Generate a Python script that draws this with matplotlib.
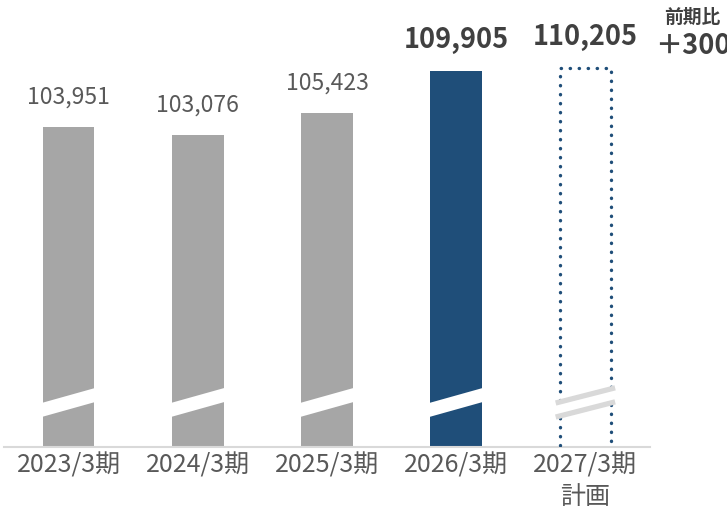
import matplotlib.pyplot as plt
from matplotlib.patches import Polygon
import numpy as np

plt.rcParams['font.family'] = ['Noto Sans CJK JP', 'DejaVu Sans']

# 売上高の推移（単位：百万円）
periods = ["2023/3期", "2024/3期", "2025/3期", "2026/3期", "2027/3期\n計画"]
sales = [103951, 103076, 105423, 109905, 110205]
bar_colors = ["#a6a6a6", "#a6a6a6", "#a6a6a6", "#1f4e79", "none"]
bold_label = [False, False, False, True, True]
diff_text = "＋300"

navy = "#1f4e79"
y_min, y_max = 69800, 117500

fig = plt.figure(figsize=(7.27, 5.12), dpi=100)
ax = fig.add_axes([4 / 727, 65 / 512, 646 / 727, 447 / 512])

x = np.arange(len(periods))
w = 0.40
ax.bar(x[:4], sales[:4], width=w, color=bar_colors[:4], zorder=2)

# 計画値は点線の枠で表示
plan = ax.bar(x[4], sales[4], width=w, facecolor="none", edgecolor=navy,
              linewidth=2.4, linestyle=(0, (0.1, 2.6)), zorder=6)
plan[0].set_capstyle("round")

ax.set_xlim(-0.5, 4.5)
ax.set_ylim(y_min, y_max)

# 省略線（斜めの帯）
trans = ax.get_xaxis_transform()
lo, hi = 0.067, 0.0984
slope = 0.034
for i in range(4):
    xl, xr = x[i] - w / 2 - 0.01, x[i] + w / 2 + 0.01
    band = Polygon([(xl, lo), (xr, lo + slope), (xr, hi + slope), (xl, hi)],
                   closed=True, transform=trans, facecolor="white",
                   edgecolor="none", zorder=3)
    ax.add_patch(band)

xl, xr = x[4] - w / 2 - 0.03, x[4] + w / 2 + 0.03
band = Polygon([(xl, lo), (xr, lo + slope), (xr, hi + slope), (xl, hi)],
               closed=True, transform=trans, facecolor="white",
               edgecolor="none", zorder=7)
ax.add_patch(band)
for yy in (lo, hi):
    ax.plot([xl, xr], [yy, yy + slope], transform=trans, color="#d9d9d9",
            linewidth=3.8, solid_capstyle="butt", zorder=8)

# 数値ラベル
for xi, v, b in zip(x, sales, bold_label):
    ax.annotate(f"{v:,}", (xi, v), xytext=(0, 17), textcoords="offset points",
                ha="center", va="baseline",
                fontsize=19.5 if b else 16.5,
                fontweight="bold" if b else "normal",
                color="#404040" if b else "#595959")

fig.text(692 / 727, 1 - 17 / 512, "前期比", ha="center", va="center",
         fontsize=13.5, fontweight="bold", color="#404040")
fig.text(655 / 727, 1 - 46 / 512, diff_text, ha="left", va="center",
         fontsize=19.5, fontweight="bold", color="#404040")

ax.set_xticks(x)
ax.set_xticklabels(periods, fontsize=18, color="#595959", linespacing=1.25)
ax.tick_params(axis="x", length=0, pad=4)
ax.set_yticks([])
for side in ["left", "right", "top"]:
    ax.spines[side].set_visible(False)
ax.spines["bottom"].set_color("#d9d9d9")
ax.spines["bottom"].set_linewidth(1.5)
ax.spines["bottom"].set_zorder(5)

fig.savefig("out.png", dpi=100)
